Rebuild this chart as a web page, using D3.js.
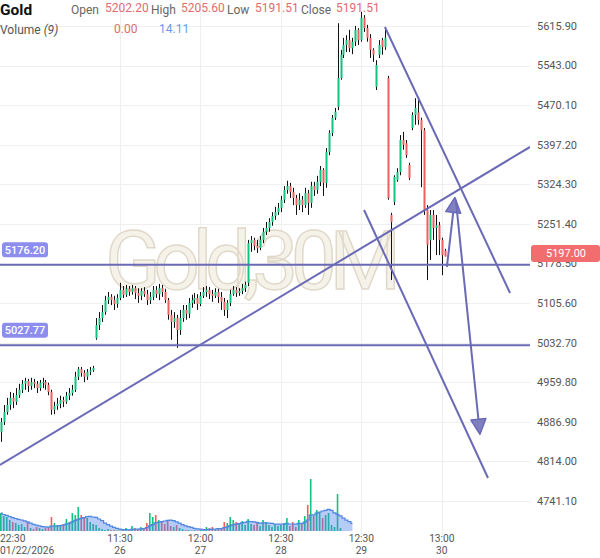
<!DOCTYPE html>
<html><head><meta charset="utf-8">
<script src="https://cdn.jsdelivr.net/npm/d3@7"></script>
<style>body{margin:0;background:#fff}svg{display:block;font-family:Roboto,"Noto Sans",sans-serif}</style>
</head><body><svg id="c" width="600" height="558"></svg>
<script>
// ---- data ----
// [open, high, low, close]
const candles = [
[4868,4894,4850,4887],[4887,4918,4881,4905],[4905,4931,4900,4918],[4918,4942,4909,4931],
[4931,4940,4912,4924],[4924,4949,4918,4936],[4936,4957,4931,4946],[4946,4964,4940,4957],
[4957,4968,4946,4962],[4962,4966,4942,4953],[4953,4968,4946,4960],[4960,4966,4949,4957],
[4957,4962,4940,4949],[4949,4964,4944,4959],[4959,4968,4949,4960],[4960,4964,4946,4955],
[4955,4959,4936,4942],[4942,4946,4900,4909],[4909,4924,4901,4916],[4916,4931,4909,4920],
[4920,4935,4912,4927],[4927,4933,4914,4924],[4924,4942,4920,4935],[4935,4949,4927,4940],
[4940,4955,4935,4946],[4946,4979,4942,4970],[4970,4988,4964,4984],[4984,4988,4970,4977],
[4977,4982,4960,4970],[4970,4984,4964,4979],[4979,4988,4973,4982],[4982,4990,4979,4986],
[5041,5078,5038,5065],[5065,5089,5056,5078],[5078,5102,5071,5089],[5089,5119,5084,5111],
[5111,5126,5104,5117],[5117,5122,5102,5111],[5111,5119,5093,5104],[5104,5122,5097,5115],
[5115,5143,5111,5130],[5130,5137,5115,5121],[5121,5139,5117,5132],[5132,5137,5119,5126],
[5126,5139,5121,5133],[5133,5137,5113,5124],[5124,5133,5106,5119],[5119,5133,5111,5128],
[5128,5135,5117,5122],[5122,5130,5102,5111],[5111,5126,5104,5117],[5117,5137,5111,5130],
[5130,5137,5115,5122],[5122,5141,5111,5133],[5133,5139,5117,5126],[5126,5132,5106,5111],
[5111,5115,5075,5084],[5084,5093,5038,5071],[5071,5089,5060,5078],[5078,5084,5023,5056],
[5056,5093,5047,5078],[5078,5102,5071,5093],[5093,5102,5075,5086],[5086,5115,5078,5106],
[5106,5121,5097,5111],[5111,5124,5104,5115],[5115,5122,5093,5104],[5104,5126,5100,5119],
[5119,5135,5115,5126],[5126,5137,5117,5130],[5130,5135,5113,5122],[5122,5130,5108,5119],
[5119,5133,5115,5126],[5126,5132,5106,5117],[5117,5126,5093,5108],[5108,5115,5082,5093],
[5093,5111,5078,5106],[5106,5130,5100,5122],[5122,5137,5119,5130],[5130,5135,5117,5124],
[5124,5133,5119,5128],[5128,5141,5122,5133],[5133,5145,5126,5139],[5143,5222,5137,5216],
[5216,5229,5200,5222],[5222,5226,5203,5211],[5211,5222,5198,5207],[5207,5229,5203,5222],
[5222,5244,5216,5237],[5237,5255,5231,5244],[5244,5262,5237,5255],[5255,5273,5248,5266],
[5266,5283,5259,5273],[5273,5290,5268,5281],[5281,5303,5273,5296],[5296,5321,5290,5314],
[5314,5331,5307,5321],[5321,5327,5299,5310],[5310,5318,5286,5299],[5299,5305,5268,5286],
[5286,5308,5277,5296],[5296,5303,5273,5286],[5286,5318,5281,5308],[5308,5314,5268,5290],
[5290,5329,5281,5321],[5321,5329,5303,5314],[5314,5340,5307,5329],[5329,5358,5321,5351],
[5351,5354,5303,5327],[5327,5391,5318,5384],[5384,5424,5378,5419],[5419,5452,5413,5447],
[5447,5465,5443,5458],[5467,5621,5461,5520],[5520,5572,5517,5563],[5563,5594,5557,5581],
[5581,5599,5568,5590],[5590,5609,5568,5575],[5575,5594,5564,5587],[5587,5616,5579,5609],
[5609,5612,5581,5590],[5590,5642,5587,5631],[5631,5636,5605,5612],[5612,5618,5587,5594],
[5594,5601,5557,5572],[5572,5575,5550,5563],[5504,5553,5498,5544],[5563,5590,5557,5581],
[5590,5594,5563,5577],[5577,5612,5572,5594],[5520,5524,5296,5299],[5268,5272,5148,5255],
[5292,5341,5286,5338],[5332,5354,5329,5347],[5347,5415,5341,5406],[5406,5421,5388,5397],
[5400,5406,5373,5378],[5360,5364,5332,5336],[5428,5457,5424,5452],[5452,5483,5434,5465],
[5457,5480,5434,5443],[5443,5447,5319,5424],[5424,5428,5268,5277],[5277,5286,5148,5213],
[5222,5277,5185,5268],[5268,5277,5222,5244],[5244,5268,5194,5249],[5249,5255,5194,5222],
[5222,5226,5157,5194],[5202.20,5205.60,5191.51,5191.51]
];
const volumes = [
18,15,14,11,9,8,6,7,4,9,3,2,4,3,2,3,4,14,8,6,5,7,12,9,18,16,24,16,14,13,9,7,
6,3,2,1,2,1,1,0.5,0.5,1,3,1,5,3,2,4,3,8,18,14,16,11,9,7,10,5,4,6,3,2,1,1,0.5,1,0.5,1,
2,4,3,4,2,3,2,9,8,14,11,9,8,10,6,12,7,6,8,5,11,9,6,4,7,5,6,8,13,5,9,4,11,8,15,26,52,
15,21,19,13,16,18,6,4,37,3,0,0,0,0
];
const yTickValues = [5615.90,5543.00,5470.10,5397.20,5324.30,5251.40,5178.50,5105.60,5032.70,4959.80,4886.90,4814.00,4741.10];
const xTickIndex = [0,40,67,94,121,148];
const xTickTime = ['22:30','11:30','12:00','12:30','12:30','13:00'];
const xTickDate = ['01/22/2026','26','27','28','29','30'];
const levels = [5176.20, 5027.77];
// trend lines: [index, price] endpoints
const trendLines = [
  [[-0.27,4807.5],[177.6,5393.1]],
  [[128.9,5614.1],[170.9,5124.2]],
  [[121.9,5277.1],[163.5,4783.5]]
];
const arrows = [
  [[149.7,5172.1],[152.4,5300.0]],
  [[152.7,5295.5],[160.8,4864.0]]
];
const lastPrice = 5197.00;
const headerVals = {open:'5202.20', high:'5205.60', low:'5191.51', close:'5191.51', vol:'0.00', volMa:'14.11'};
const maPeriod = 9;

// ---- chart ----
const svg = d3.select('#c');
const plotR = 530, volBase = 531;
const x = d3.scaleLinear().domain([0,149]).range([0.8,444.8]);
const y = d3.scaleLinear().domain([4741.1,5615.9]).range([501,26]);
const yv = d3.scaleLinear().domain([0,60]).range([volBase, volBase-60]);
const UP='#0fc47e', DN='#ef5f5f', LINE='#6a6ab6';

svg.append('defs').append('clipPath').attr('id','pc').append('rect')
  .attr('x',0).attr('y',0).attr('width',plotR).attr('height',volBase+4);

// grid
const grid = svg.append('g');
grid.selectAll('.hg').data(yTickValues).join('line')
  .attr('x1',0).attr('x2',plotR).attr('y1',d=>Math.round(y(d))+0.5).attr('y2',d=>Math.round(y(d))+0.5)
  .attr('stroke','#efefef');
grid.selectAll('.vg').data(xTickIndex.slice(1)).join('line')
  .attr('x1',d=>Math.round(x(d))+0.5).attr('x2',d=>Math.round(x(d))+0.5).attr('y1',0).attr('y2',535)
  .attr('stroke','#efefef');

// watermark
svg.append('text').text('Gold,30M')
  .attr('x',105).attr('y',289).attr('font-size',82)
  .attr('textLength',296).attr('lengthAdjust','spacing')
  .attr('fill','#f5f1e8').attr('stroke','#ddd4c2').attr('stroke-width',1.4)
  .attr('opacity',0.9);

const plot = svg.append('g').attr('clip-path','url(#pc)');

// volume bars
plot.selectAll('.vb').data(volumes).join('rect')
  .attr('x',(d,i)=>x(i)-0.8).attr('width',1.6)
  .attr('y',d=>yv(d)).attr('height',d=>volBase-yv(d))
  .attr('fill',(d,i)=>candles[i][3]>=candles[i][0]?UP:DN);

// volume MA
const ma = volumes.map((v,i)=>d3.mean(volumes.slice(Math.max(0,i-maPeriod+1),i+1)));
plot.append('path').datum(ma)
  .attr('d',d3.area().x((d,i)=>x(i)).y0(volBase).y1(d=>yv(d)).curve(d3.curveStep))
  .attr('fill','rgba(80,130,230,0.42)');
plot.append('path').datum(ma)
  .attr('d',d3.line().x((d,i)=>x(i)).y(d=>yv(d)).curve(d3.curveStep))
  .attr('fill','none').attr('stroke','#4f86e0').attr('stroke-width',1.2);

// candles
const cg = plot.append('g');
candles.forEach((c,i)=>{
  const cx = Math.round(x(i));
  cg.append('rect').attr('x',cx).attr('width',1)
    .attr('y',y(c[1])).attr('height',Math.max(1,y(c[2])-y(c[1]))).attr('fill','#111');
  const top=y(Math.max(c[0],c[3])), bot=y(Math.min(c[0],c[3]));
  cg.append('rect').attr('x',cx-0.5).attr('width',2)
    .attr('y',top).attr('height',Math.max(1,bot-top))
    .attr('fill',c[3]>=c[0]?UP:DN);
});

// horizontal levels
plot.selectAll('.lv').data(levels).join('line')
  .attr('x1',0).attr('x2',plotR).attr('y1',d=>y(d)).attr('y2',d=>y(d))
  .attr('stroke',LINE).attr('stroke-width',2);

// trend lines
plot.selectAll('.tl').data(trendLines).join('line')
  .attr('x1',d=>x(d[0][0])).attr('y1',d=>y(d[0][1]))
  .attr('x2',d=>x(d[1][0])).attr('y2',d=>y(d[1][1]))
  .attr('stroke',LINE).attr('stroke-width',2);

// arrows
arrows.forEach(a=>{
  const x1=x(a[0][0]), y1=y(a[0][1]), x2=x(a[1][0]), y2=y(a[1][1]);
  const ang=Math.atan2(y2-y1,x2-x1), L=15, Wd=7.5;
  const bx=x2-L*Math.cos(ang), by=y2-L*Math.sin(ang);
  plot.append('line').attr('x1',x1).attr('y1',y1).attr('x2',bx).attr('y2',by)
    .attr('stroke',LINE).attr('stroke-width',2);
  const px=-Math.sin(ang)*Wd, py=Math.cos(ang)*Wd;
  plot.append('path').attr('d',`M${x2},${y2}L${bx+px},${by+py}L${bx-px},${by-py}Z`)
    .attr('fill',LINE).attr('fill-opacity',0.85).attr('stroke',LINE).attr('stroke-width',1.5).attr('stroke-linejoin','round');
});

// level labels
levels.forEach(l=>{
  const g=svg.append('g');
  g.append('rect').attr('x',2).attr('y',y(l)-22.5).attr('width',46).attr('height',15).attr('rx',3).attr('fill','#8d8df0');
  g.append('text').attr('x',25).attr('y',y(l)-15).attr('dy','0.35em').attr('text-anchor','middle')
    .attr('font-size',11).attr('font-weight',500).attr('fill','#fff').text(l.toFixed(2));
});

// right axis
svg.selectAll('.yl').data(yTickValues).join('text')
  .attr('x',537).attr('y',d=>y(d)).attr('dy','0.35em')
  .attr('font-size',11).attr('fill','#555').text(d=>d.toFixed(2));

// last price box
svg.append('rect').attr('x',531).attr('y',y(lastPrice)-8.5).attr('width',69).attr('height',17).attr('rx',3).attr('fill','#f26d6d');
svg.append('text').attr('x',566).attr('y',y(lastPrice)).attr('dy','0.35em').attr('text-anchor','middle')
  .attr('font-size',11).attr('fill','#fff').text(lastPrice.toFixed(2));

// bottom axis
xTickIndex.forEach((t,k)=>{
  const first = k===0;
  const tx = first?0:x(t);
  const anchor = first?'start':'middle';
  svg.append('text').attr('x',tx).attr('y',541.5).attr('text-anchor',anchor)
    .attr('font-size',10.2).attr('fill','#555').text(xTickTime[k]);
  svg.append('text').attr('x',tx).attr('y',553.5).attr('text-anchor',anchor)
    .attr('font-size',10.2).attr('fill','#555').text(xTickDate[k]);
});

// header
const RED='#e26b6b';
svg.append('text').attr('x',0).attr('y',14.5).attr('font-size',15.5).attr('font-weight',700).attr('fill','#111').text('Gold');
[['Open',71,headerVals.open,105],['High',151,headerVals.high,181],['Low',227,headerVals.low,255],['Close',301,headerVals.close,336]]
.forEach(h=>{
  svg.append('text').attr('x',h[1]).attr('y',14).attr('font-size',12).attr('fill','#666').text(h[0]);
  svg.append('text').attr('x',h[3]).attr('y',11.5).attr('font-size',12).attr('fill',RED).text(h[2]);
});
const vt = svg.append('text').attr('x',0).attr('y',34).attr('font-size',12).attr('fill','#555');
vt.append('tspan').text('Volume ');
vt.append('tspan').attr('font-style','italic').text('(9)');
svg.append('text').attr('x',114).attr('y',33).attr('font-size',12).attr('fill',RED).text(headerVals.vol);
svg.append('text').attr('x',159).attr('y',33).attr('font-size',12).attr('fill','#6b9be8').text(headerVals.volMa);
</script></body></html>
